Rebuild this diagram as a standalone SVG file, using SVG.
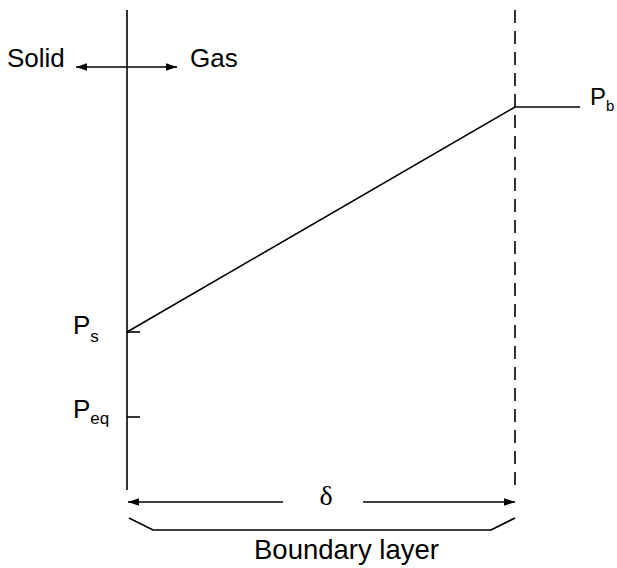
<svg xmlns="http://www.w3.org/2000/svg" width="617" height="568" viewBox="0 0 617 568">
<style>
.l{stroke:#000;stroke-width:1.6;fill:none}
.t{font-family:"Liberation Sans",Arial,sans-serif;font-size:26px;fill:#000}
.s{font-family:"Liberation Sans",Arial,sans-serif;font-size:17px;fill:#000}
</style>
<defs>
<marker id="ah" viewBox="0 0 10 10" refX="10" refY="5" markerWidth="11" markerHeight="11" markerUnits="userSpaceOnUse" orient="auto-start-reverse">
<path d="M0,1.5 L10,5 L0,8.5 z" fill="#000"/>
</marker>
</defs>
<rect width="617" height="568" fill="#fff"/>
<g id="connectors">
<line class="l" x1="127" y1="10" x2="127" y2="490"/>
<line class="l" x1="515" y1="10" x2="515" y2="490" stroke-dasharray="13,8"/>
<line class="l" x1="76" y1="67" x2="177" y2="67" marker-start="url(#ah)" marker-end="url(#ah)"/>
<line class="l" x1="127" y1="332" x2="515" y2="107"/>
<line class="l" x1="515" y1="107" x2="580" y2="107"/>
<line class="l" x1="127" y1="332" x2="140" y2="332"/>
<line class="l" x1="127" y1="417" x2="140" y2="417"/>
<line class="l" x1="128" y1="502" x2="283" y2="502" marker-start="url(#ah)"/>
<line class="l" x1="363" y1="502" x2="515" y2="502" marker-end="url(#ah)"/>
<polyline class="l" points="129,518 153,530 491,530 515,518"/>
</g>
<g id="solid"><text class="t" x="7" y="67">Solid</text></g>
<g id="gas"><text class="t" x="190" y="67">Gas</text></g>
<g id="pb"><text class="t" x="590" y="105" style="font-size:24px">P<tspan class="s" dy="6" style="font-size:15px">b</tspan></text></g>
<g id="ps"><text class="t" x="73" y="334">P<tspan class="s" dy="8">s</tspan></text></g>
<g id="peq"><text class="t" x="73" y="418">P<tspan class="s" dy="6">eq</tspan></text></g>
<g id="delta"><text class="t" x="326" y="505" text-anchor="middle" style="font-family:'Liberation Serif',serif;font-size:28px">δ</text></g>
<g id="boundary"><text class="t" x="254" y="559" style="font-size:27.5px">Boundary layer</text></g>
</svg>
